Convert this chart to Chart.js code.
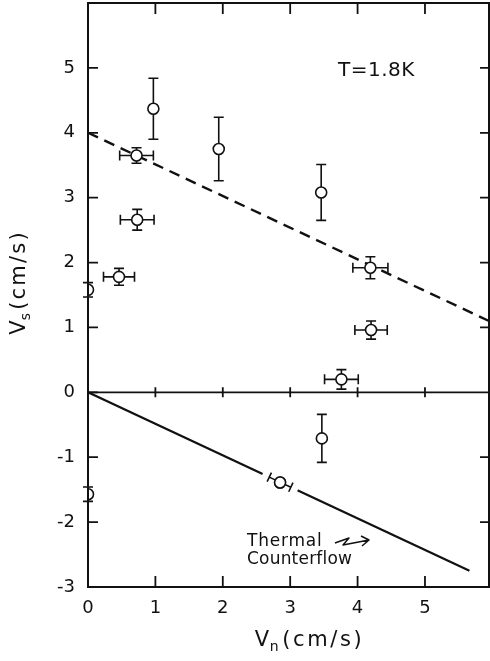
<!DOCTYPE html>
<html lang="en">
<head>
  <meta charset="UTF-8">
  <title>Vs vs Vn, T = 1.8K</title>
  <script src="https://cdn.jsdelivr.net/npm/chart.js"></script>
  <style>
    html, body { margin: 0; padding: 0; background: #fff; }
  </style>
</head>
<body>
  <canvas id="vsChart" width="490" height="661"></canvas>

  <script>
    // measured points: normal fluid velocity, superfluid velocity, error bars
    const vn = [0, 0.46, 0.73, 0.72, 0.97, 1.94, 3.46, 4.19, 4.2, 3.76, 3.47, 2.85, 0];
    const vs = [1.58, 1.78, 2.66, 3.65, 4.37, 3.75, 3.08, 1.92, 0.96, 0.2, -0.71, -1.39, -1.57];
    const vnErr = [0, 0.23, 0.25, 0.25, 0, 0, 0, 0.26, 0.24, 0.25, 0, 0.16, 0];
    const vsErr = [0.11, 0.13, 0.16, 0.12, 0.47, 0.49, 0.43, 0.17, 0.14, 0.15, 0.37, 0, 0.11];

    // dashed fit line and thermal counterflow line
    const dashVn = [0, 5.95];
    const dashVs = [4.0, 1.1];
    const flowVn = [0, 5.66];
    const flowVs = [0, -2.75];

    const xTicks = [0, 1, 2, 3, 4, 5];
    const yTicks = [-3, -2, -1, 0, 1, 2, 3, 4, 5];

    const ink = '#111';
    const FONT = 'DejaVu Sans';

    const toXY = (xs, ys) => xs.map((x, i) => ({ x: x, y: ys[i] }));
    const flowAt = v => flowVs[0] + (flowVs[1] - flowVs[0]) * (v - flowVn[0]) / (flowVn[1] - flowVn[0]);

    // the point that sits on the counterflow line gets its bar along the line
    const onLine = 11;

    const decorations = {
      id: 'decorations',
      beforeDatasetsDraw(chart) {
        const { ctx, scales: { x, y } } = chart;
        ctx.save();
        ctx.strokeStyle = ink;
        ctx.lineWidth = 1.6;
        const cap = 5;
        vn.forEach((v, i) => {
          if (i === onLine) return;
          const px = x.getPixelForValue(v);
          const py = y.getPixelForValue(vs[i]);
          if (vsErr[i] > 0) {
            const t = y.getPixelForValue(vs[i] + vsErr[i]);
            const b = y.getPixelForValue(vs[i] - vsErr[i]);
            ctx.beginPath();
            ctx.moveTo(px, t); ctx.lineTo(px, b);
            ctx.moveTo(px - cap, t); ctx.lineTo(px + cap, t);
            ctx.moveTo(px - cap, b); ctx.lineTo(px + cap, b);
            ctx.stroke();
          }
          if (vnErr[i] > 0) {
            const l = x.getPixelForValue(v - vnErr[i]);
            const r = x.getPixelForValue(v + vnErr[i]);
            ctx.beginPath();
            ctx.moveTo(l, py); ctx.lineTo(r, py);
            ctx.moveTo(l, py - cap); ctx.lineTo(l, py + cap);
            ctx.moveTo(r, py - cap); ctx.lineTo(r, py + cap);
            ctx.stroke();
          }
        });
        ctx.restore();
      },
      afterDatasetsDraw(chart) {
        const { ctx, scales: { x, y } } = chart;
        const v = vn[onLine];
        const e = vnErr[onLine];
        const p = (t) => [x.getPixelForValue(t), y.getPixelForValue(flowAt(t))];
        ctx.save();
        // break in the line around the point
        const [gx1, gy1] = p(v - 0.26);
        const [gx2, gy2] = p(v + 0.26);
        ctx.strokeStyle = '#fff';
        ctx.lineWidth = 5;
        ctx.beginPath();
        ctx.moveTo(gx1, gy1); ctx.lineTo(gx2, gy2);
        ctx.stroke();
        // bar along the line with perpendicular caps
        const [lx, ly] = p(v - e);
        const [rx, ry] = p(v + e);
        const len = Math.hypot(rx - lx, ry - ly);
        const nx = -(ry - ly) / len * 5;
        const ny = (rx - lx) / len * 5;
        ctx.strokeStyle = ink;
        ctx.lineWidth = 1.6;
        ctx.beginPath();
        ctx.moveTo(lx, ly); ctx.lineTo(rx, ry);
        ctx.moveTo(lx - nx, ly - ny); ctx.lineTo(lx + nx, ly + ny);
        ctx.moveTo(rx - nx, ry - ny); ctx.lineTo(rx + nx, ry + ny);
        ctx.stroke();
        ctx.restore();
        chart.getDatasetMeta(0).data[onLine].draw(ctx);
      },
      afterDraw(chart) {
        const { ctx, chartArea: a, scales: { x, y } } = chart;
        ctx.save();
        ctx.strokeStyle = ink;
        ctx.fillStyle = ink;
        ctx.lineWidth = 2;
        ctx.lineCap = 'butt';
        ctx.strokeRect(a.left, a.top, a.right - a.left, a.bottom - a.top);

        // zero line
        const y0 = y.getPixelForValue(0);
        ctx.lineWidth = 1.6;
        ctx.beginPath();
        ctx.moveTo(a.left, y0); ctx.lineTo(a.right, y0);
        ctx.stroke();

        ctx.lineWidth = 1.8;
        ctx.beginPath();
        xTicks.slice(1).forEach(v => {
          const px = x.getPixelForValue(v);
          ctx.moveTo(px, a.top); ctx.lineTo(px, a.top + 11);
          ctx.moveTo(px, a.bottom); ctx.lineTo(px, a.bottom - 11);
          ctx.moveTo(px, y0 - 5); ctx.lineTo(px, y0 + 5);
        });
        yTicks.forEach(v => {
          const py = y.getPixelForValue(v);
          ctx.moveTo(a.left, py); ctx.lineTo(a.left + 10, py);
          if (v !== 0 && v !== -3) {
            ctx.moveTo(a.right, py); ctx.lineTo(a.right - 9, py);
          }
        });
        ctx.stroke();

        // temperature label
        ctx.letterSpacing = '0.5px';
        ctx.font = '20px "' + FONT + '"';
        ctx.textAlign = 'center';
        ctx.textBaseline = 'alphabetic';
        ctx.fillText('T=1.8K', x.getPixelForValue(4.28), y.getPixelForValue(4.88));

        // counterflow note
        ctx.font = '17px "' + FONT + '"';
        ctx.textAlign = 'left';
        ctx.letterSpacing = '0.8px';
        ctx.fillText('Thermal', 247, 546);
        ctx.letterSpacing = '0.2px';
        ctx.fillText('Counterflow', 247, 564);

        // squiggle arrow
        ctx.lineWidth = 1.5;
        ctx.lineJoin = 'round';
        ctx.beginPath();
        ctx.moveTo(335, 543);
        ctx.lineTo(349, 538);
        ctx.lineTo(343, 545);
        ctx.lineTo(369, 540);
        ctx.moveTo(361, 536);
        ctx.lineTo(369, 540);
        ctx.lineTo(362, 546);
        ctx.stroke();

        // axis titles with subscripts
        const title = (main, sub, rest, spacing) => {
          ctx.font = '21px "' + FONT + '"';
          ctx.letterSpacing = spacing;
          const w1 = ctx.measureText(main).width;
          const w3 = ctx.measureText(rest).width;
          ctx.font = '14px "' + FONT + '"';
          const w2 = ctx.measureText(sub).width;
          const total = w1 + w2 + w3;
          let cx = -total / 2;
          ctx.textAlign = 'left';
          ctx.font = '21px "' + FONT + '"';
          ctx.fillText(main, cx, 0);
          cx += w1 - 2;
          ctx.font = '14px "' + FONT + '"';
          ctx.fillText(sub, cx, 5);
          cx += w2 + 1;
          ctx.font = '21px "' + FONT + '"';
          ctx.fillText(rest, cx, 0);
        };

        ctx.save();
        ctx.translate(310, 646);
        title('V', 'n', '(cm/s)', '2.6px');
        ctx.restore();

        ctx.save();
        ctx.translate(25, 282);
        ctx.rotate(-Math.PI / 2);
        title('V', 's', '(cm/s)', '2.2px');
        ctx.restore();

        ctx.restore();
      }
    };

    const ctx = document.getElementById('vsChart').getContext('2d');
    const chart = new Chart(ctx, {
      type: 'scatter',
      data: {
        datasets: [
          {
            label: 'measured',
            data: toXY(vn, vs),
            pointStyle: 'circle',
            pointRadius: 5.5,
            pointBackgroundColor: '#fff',
            pointBorderColor: ink,
            pointBorderWidth: 1.6,
            showLine: false
          },
          {
            label: 'fit',
            data: toXY(dashVn, dashVs),
            showLine: true,
            borderColor: ink,
            borderWidth: 2.4,
            borderDash: [11, 7],
            pointRadius: 0
          },
          {
            label: 'thermal counterflow',
            data: toXY(flowVn, flowVs),
            showLine: true,
            borderColor: ink,
            borderWidth: 2.2,
            pointRadius: 0
          }
        ]
      },
      options: {
        responsive: false,
        animation: false,
        layout: { autoPadding: false, padding: { top: 3, right: 1, left: 0, bottom: 0 } },
        plugins: {
          legend: { display: false },
          tooltip: { enabled: false }
        },
        scales: {
          x: {
            type: 'linear',
            min: 0,
            max: 5.95,
            afterFit(s) {
              s.height = 74;
              s.paddingLeft = 0;
              s.paddingRight = 0;
            },
            afterBuildTicks(s) { s.ticks = xTicks.map(v => ({ value: v })); },
            ticks: {
              padding: 11,
              maxRotation: 0,
              color: ink,
              font: { family: FONT, size: 18 }
            },
            grid: { display: false, drawTicks: false },
            border: { display: false }
          },
          y: {
            type: 'linear',
            min: -3,
            max: 6,
            afterFit(s) {
              s.width = 88;
              s.paddingTop = 0;
              s.paddingBottom = 0;
            },
            afterBuildTicks(s) { s.ticks = yTicks.map(v => ({ value: v })); },
            ticks: {
              padding: 13,
              color: ink,
              font: { family: FONT, size: 18 }
            },
            grid: { display: false, drawTicks: false },
            border: { display: false }
          }
        }
      },
      plugins: [decorations]
    });
  </script>
</body>
</html>
